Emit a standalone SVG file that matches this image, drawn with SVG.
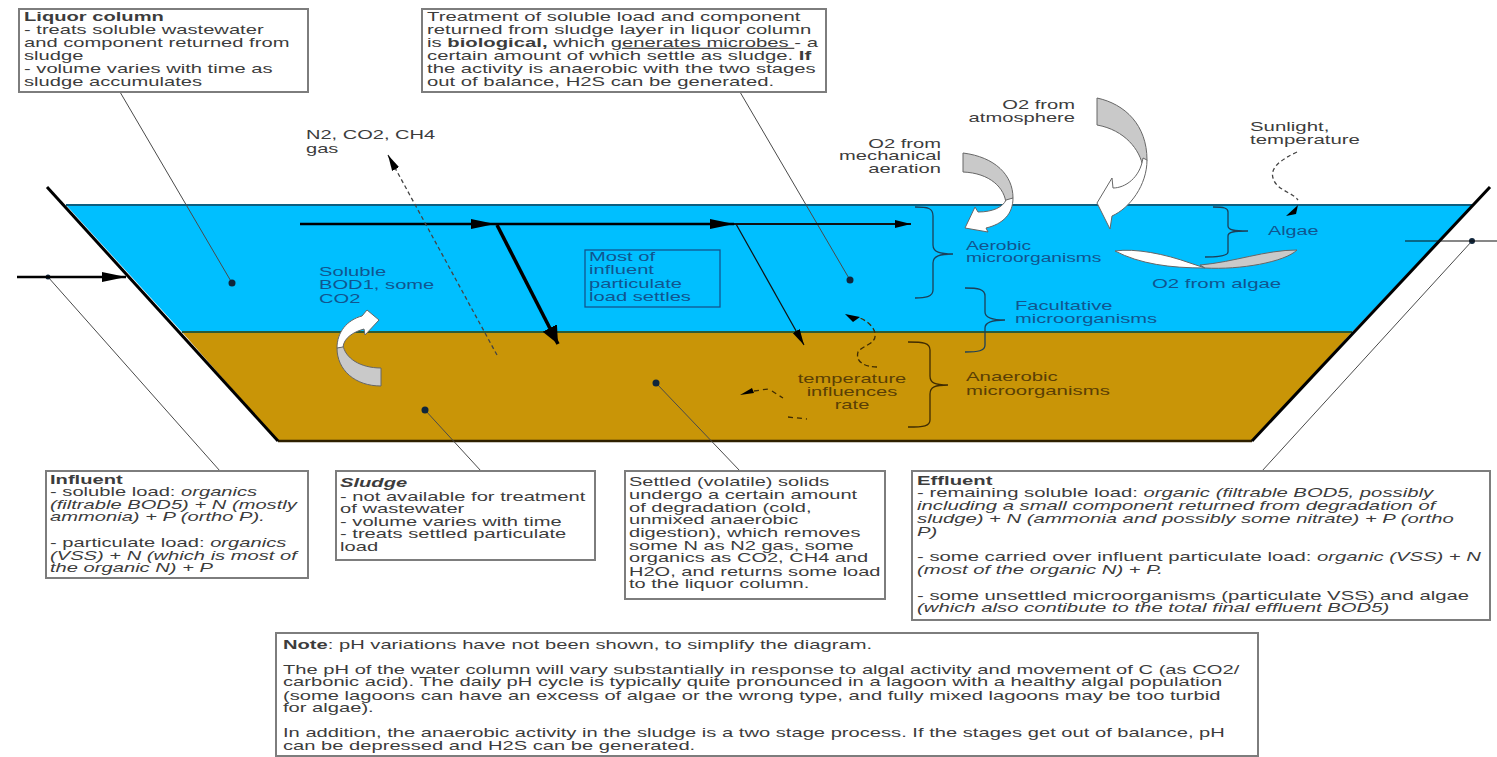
<svg xmlns="http://www.w3.org/2000/svg" width="1497" height="757" viewBox="0 0 1497 757">
<style>
  text { font-family: "Liberation Sans", Arial, sans-serif; font-size: 12px; fill: #3c3c3c; }
  .b { font-weight: bold; }
  .i { font-style: italic; }
  .u { text-decoration: underline; }
  .onblue, .onblue text { fill: #11558f; }
  .onbrown, .onbrown text { fill: #5a3f05; }
  .box { fill: #fff; stroke: #7d7d7d; stroke-width: 2; }
  .lead { fill: none; stroke: #4a4a4a; stroke-width: 1; }
  .flow { fill: none; stroke: #000; stroke-width: 2.5; }
  .thin { fill: none; stroke: #111; stroke-width: 1.2; }
  .dash { fill: none; stroke: #444; stroke-width: 1.3; stroke-dasharray: 4 3; }
  .brace { fill: none; stroke: #1d3f58; stroke-width: 1.3; }
  .bracebr { fill: none; stroke: #3f2c03; stroke-width: 1.3; }
  .grey { fill: #c9c9c9; stroke: #666; stroke-width: 1; }
  .white { fill: #fff; stroke: #666; stroke-width: 1; }
  .dot { fill: #10263c; }
</style>
<defs>
  <marker id="head" markerUnits="userSpaceOnUse" markerWidth="26" markerHeight="12" refX="24" refY="6" orient="auto"><path d="M0 1 L24 6 L0 11 Z" fill="#000"/></marker>
  <marker id="headS" markerUnits="userSpaceOnUse" markerWidth="18" markerHeight="10" refX="16" refY="5" orient="auto"><path d="M0 1 L16 5 L0 9 Z" fill="#000"/></marker>
  <marker id="headB" markerUnits="userSpaceOnUse" markerWidth="20" markerHeight="18" refX="18" refY="9" orient="auto"><path d="M0 1 L18 9 L0 17 Z" fill="#000"/></marker>
</defs>

<!-- lagoon body -->
<g id="lagoon">
  <polygon points="66,205 1473,205 1352,332 182,332" fill="#00bfff"/>
  <polygon points="182,332 1352,332 1252,441 278,441" fill="#c99507"/>
  <path d="M66 205 H1473" fill="none" stroke="#0d5f80" stroke-width="2"/>
  <path d="M182 332 H1352" fill="none" stroke="#2c5a35" stroke-width="2"/>
  <path d="M278 441 H1252" fill="none" stroke="#2e2000" stroke-width="2.5"/>
  <path d="M47 187 L278 441" fill="none" stroke="#000" stroke-width="3"/>
  <path d="M1490 187 L1252 441" fill="none" stroke="#000" stroke-width="3"/>
</g>

<!-- leaders, flows and dashed influences -->
<g id="connectors">
  <path class="lead" d="M120 92 L232 283"/><circle class="dot" cx="232" cy="283" r="3.5"/>
  <path class="lead" d="M740 92 L850 280"/><circle class="dot" cx="850" cy="280" r="3.5"/>
  <path class="lead" d="M48 277 L220 471"/><circle class="dot" cx="48" cy="277" r="2.5"/>
  <path class="lead" d="M425 410 L481 471"/><circle class="dot" cx="425" cy="410" r="3.5"/>
  <path class="lead" d="M656 383 L740 471"/><circle class="dot" cx="656" cy="383" r="3.5"/>
  <path class="lead" d="M1472 241 L1262 471"/><circle class="dot" cx="1472" cy="241" r="3"/>
  <path class="thin" d="M1405 241 H1497"/>
  <path class="flow" d="M17 277 H126" marker-end="url(#head)"/>
  <path class="flow" d="M300 224 H495" marker-end="url(#head)"/>
  <path class="flow" d="M495 224 H734" marker-end="url(#head)"/>
  <path class="thin" style="stroke-width:1.8" d="M734 224 H911" marker-end="url(#headS)"/>
  <path class="flow" style="stroke-width:3.5" d="M497 225 L558 344" marker-end="url(#headB)"/>
  <path class="thin" d="M736 224 L804 345" marker-end="url(#headS)"/>
  <path class="dash" d="M497 355 L388 155" marker-end="url(#headS)"/>
  <path class="dash" d="M1297 152 C1280 160 1270 168 1273 178 C1276 190 1292 192 1298 200"/>
  <path d="M1298 205 L1296 214 L1286 216 Z" fill="#000"/>
  <path class="bracebr" stroke-dasharray="5 3" d="M877 367 C865 367 855 362 858 352 C862 345 877 345 875 333 C873 325 865 320 860 318"/>
  <path d="M845 314 L860 317 L853 322 Z" fill="#000"/>
  <path d="M740 395 L752 388 L754 393 Z" fill="#000"/>
  <path class="bracebr" stroke-dasharray="5 4" d="M754 391 L768 389 M772 391 L783 398 M788 417 L807 419"/>
</g>

<!-- curly block arrows -->
<g id="aeration-arrow">
  <path class="grey" d="M963 153 C995 157 1013 175 1013 198 L1006 204 C1005 188 990 173 963 172 Z"/>
  <path class="white" d="M1013 198 C1013 214 1003 224 986 228 L988 232 L965 228 L975 207 L978 212 C993 212 1003 207 1006 200 Z"/>
</g>
<g id="atmosphere-arrow">
  <path class="grey" d="M1097 98 C1125 104 1147 125 1147 160 L1143 167 C1140 150 1125 130 1097 125 Z"/>
  <path class="white" d="M1147 160 C1147 185 1130 208 1112 216 L1110 229 L1097 203 L1112 178 L1113 188 C1125 188 1140 178 1143 158 Z"/>
</g>
<g id="sludge-arrow">
  <path class="grey" d="M381 368 L381 386 C355 386 337 370 337 348 L343 345 C345 358 360 368 381 368 Z"/>
  <path class="white" d="M337 348 C337 332 347 320 362 316 L367 310 L379 320 L365 335 L364 329 C353 332 344 338 343 347 Z"/>
</g>
<g id="algae-arrow">
  <path class="white" d="M1115 251 C1135 248 1165 254 1190 263 L1205 268 C1170 268 1140 264 1115 251 Z"/>
  <path class="grey" d="M1200 265 C1235 262 1265 250 1297 250 C1285 262 1240 270 1205 268 Z"/>
</g>

<!-- braces for the microorganism zones -->
<g id="braces">
  <path class="brace" d="M915 207 C928 207 933 208 933 216 V245 C933 252 940 254 953 254 C940 254 933 256 933 263 V290 C933 297 925 298 915 298"/>
  <path class="brace" d="M965 288 C978 288 985 289 985 296 V312 C985 318 992 320 1005 320 C992 320 985 322 985 328 V345 C985 351 978 352 965 352"/>
  <path class="bracebr" d="M908 342 C924 342 930 343 930 350 V376 C930 383 935 385 948 385 C935 385 930 387 930 394 V420 C930 426 924 427 908 427"/>
  <path class="brace" d="M1213 207 C1224 207 1228 208 1228 212 V226 C1228 230 1234 231 1248 231 C1234 231 1228 232 1228 236 V252 C1228 255 1220 257 1205 257"/>
</g>

<!-- free labels -->
<g id="label-gas" transform="matrix(1.67 0 0 1 306 0)"><text y="139">N2, CO2, CH4</text><text y="153">gas</text></g>
<g id="label-soluble" class="onblue" transform="matrix(1.68 0 0 1 319 0)"><text y="276">Soluble</text><text y="289">BOD1, some</text><text y="303">CO2</text></g>
<g id="label-settle" class="onblue">
  <rect x="585" y="250" width="135" height="57" fill="none" stroke="#11558f" stroke-width="1.3"/>
  <g transform="matrix(1.68 0 0 1 589 0)"><text y="261">Most of</text><text y="274">influent</text><text y="288">particulate</text><text y="301">load settles</text></g>
</g>
<g id="label-mech" text-anchor="end" transform="matrix(1.68 0 0 1 941 0)"><text y="148">O2 from</text><text y="160">mechanical</text><text y="173">aeration</text></g>
<g id="label-atm" text-anchor="end" transform="matrix(1.68 0 0 1 1075 0)"><text y="109">O2 from</text><text y="122">atmosphere</text></g>
<g id="label-sun" transform="matrix(1.7 0 0 1 1250 0)"><text y="131">Sunlight,</text><text y="144">temperature</text></g>
<g id="label-aerobic" class="onblue" transform="matrix(1.6 0 0 1 966 0)"><text y="250">Aerobic</text><text y="262">microorganisms</text></g>
<g id="label-algae" class="onblue" transform="matrix(1.65 0 0 1 1268 0)"><text y="235">Algae</text></g>
<g id="label-o2algae" class="onblue" transform="matrix(1.7 0 0 1 1152 0)"><text y="288">O2 from algae</text></g>
<g id="label-fac" class="onblue" transform="matrix(1.68 0 0 1 1015 0)"><text y="310">Facultative</text><text y="323">microorganisms</text></g>
<g id="label-ana" class="onbrown" transform="matrix(1.7 0 0 1 966 0)"><text y="381">Anaerobic</text><text y="395">microorganisms</text></g>
<g id="label-temp" class="onbrown" text-anchor="middle" transform="matrix(1.68 0 0 1 852 0)"><text y="383">temperature</text><text y="396">influences</text><text y="409">rate</text></g>

<!-- annotation boxes -->
<g id="box-liquor">
  <rect class="box" x="19" y="9" width="289" height="83"/>
  <g transform="matrix(1.68 0 0 1 24 0)"><text class="b" y="21">Liquor column</text><text y="34">- treats soluble wastewater</text><text y="47">and component returned from</text><text y="60">sludge</text><text y="73">- volume varies with time as</text><text y="86">sludge accumulates</text></g>
</g>
<g id="box-treatment">
  <rect class="box" x="422" y="9" width="404" height="83"/>
  <g transform="matrix(1.69 0 0 1 427 0)"><text y="21">Treatment of soluble load and component</text><text y="34">returned from sludge layer in liquor column</text><text y="47">is <tspan class="b">biological,</tspan> which <tspan class="u">generates microbes </tspan>- a</text><text y="60">certain amount of which settle as sludge. <tspan class="b">If</tspan></text><text y="73">the activity is anaerobic with the two stages</text><text y="86">out of balance, H2S can be generated.</text></g>
</g>
<g id="box-influent">
  <rect class="box" x="46" y="471" width="262" height="107"/>
  <g transform="matrix(1.68 0 0 1 50 0)"><text class="b" y="484">Influent</text><text y="496">- soluble load: <tspan class="i">organics</tspan></text><text class="i" y="509">(filtrable BOD5) + N (mostly</text><text class="i" y="521">ammonia) + P (ortho P).</text><text y="547">- particulate load: <tspan class="i">organics</tspan></text><text class="i" y="560">(VSS) + N (which is most of</text><text class="i" y="572">the organic N) + P</text></g>
</g>
<g id="box-sludge">
  <rect class="box" x="336" y="471" width="259" height="89"/>
  <g transform="matrix(1.68 0 0 1 340 0)"><text class="b i" y="487">Sludge</text><text y="501">- not available for treatment</text><text y="513">of wastewater</text><text y="526">- volume varies with time</text><text y="538">- treats settled particulate</text><text y="551">load</text></g>
</g>
<g id="box-settled">
  <rect class="box" x="625" y="471" width="260" height="128"/>
  <g transform="matrix(1.67 0 0 1 629 0)"><text y="486">Settled (volatile) solids</text><text y="499">undergo a certain amount</text><text y="512">of degradation (cold,</text><text y="524">unmixed anaerobic</text><text y="537">digestion), which removes</text><text y="550">some N as N2 gas, some</text><text y="562">organics as CO2, CH4 and</text><text y="576">H2O, and returns some load</text><text y="588">to the liquor column.</text></g>
</g>
<g id="box-effluent">
  <rect class="box" x="912" y="471" width="578" height="149"/>
  <g transform="matrix(1.69 0 0 1 917 0)"><text class="b" y="485">Effluent</text><text y="497">- remaining soluble load: <tspan class="i">organic (filtrable BOD5, possibly</tspan></text><text class="i" y="510">including a small component returned from degradation of</text><text class="i" y="523">sludge) + N  (ammonia and possibly some nitrate) + P (ortho</text><text class="i" y="536">P)</text><text y="561">- some carried over influent particulate load: <tspan class="i">organic (VSS) + N</tspan></text><text class="i" y="574">(most of the organic N) + P.</text><text y="600">- some unsettled microorganisms (particulate VSS) and algae</text><text class="i" y="612">(which also contibute to the total final effluent BOD5)</text></g>
</g>
<g id="box-note">
  <rect class="box" x="276" y="633" width="982" height="123"/>
  <g transform="matrix(1.68 0 0 1 283 0)"><text y="649"><tspan class="b">Note</tspan>:  pH variations have not been shown, to simplify the diagram.</text><text y="674">The pH of the water column will vary substantially in response to algal activity and movement of C (as CO2/</text><text y="686">carbonic acid). The daily pH cycle is typically quite pronounced in a lagoon with a healthy algal population</text><text y="700">(some lagoons can have an excess of algae or the wrong type, and fully mixed lagoons may be too turbid</text><text y="712">for algae).</text><text y="737">In addition, the anaerobic activity in the sludge is a two stage process. If the stages get out of balance, pH</text><text y="750">can be depressed and H2S can be generated.</text></g>
</g>
</svg>
